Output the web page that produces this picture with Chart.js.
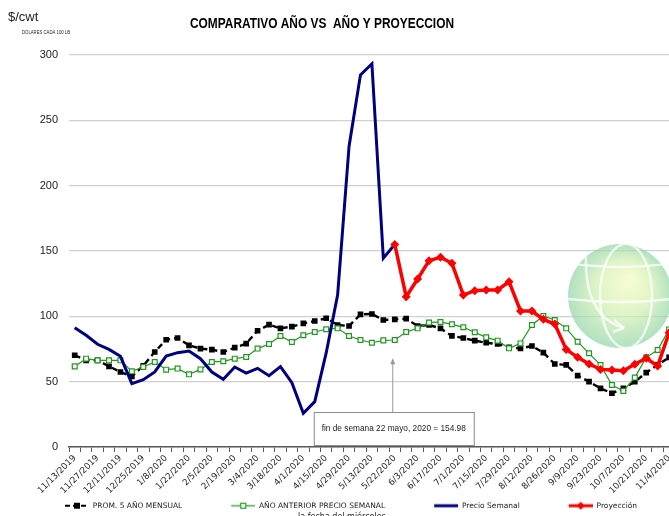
<!DOCTYPE html>
<html>
<head>
<meta charset="utf-8">
<title>Comparativo año vs año y proyeccion</title>
<script src="https://cdn.jsdelivr.net/npm/chart.js@4.4.1/dist/chart.umd.min.js"></script>
<style>
html,body{margin:0;padding:0;background:#fff;overflow:hidden}
#wrap{width:680px;height:516px}
</style>
</head>
<body>
<div id="wrap"><canvas id="precioChart" width="680" height="516"></canvas></div>
<script>
/* ====================================
   DATA (weekly, wednesday dates)
==================================== */

const weeks=["11/13/2019","11/20/2019","11/27/2019","12/4/2019","12/11/2019","12/18/2019","12/25/2019",
"1/1/2020","1/8/2020","1/15/2020","1/22/2020","1/29/2020","2/5/2020","2/12/2020","2/19/2020","2/26/2020",
"3/4/2020","3/11/2020","3/18/2020","3/25/2020","4/1/2020","4/8/2020","4/15/2020","4/22/2020","4/29/2020",
"5/6/2020","5/13/2020","5/20/2020","5/22/2020","5/27/2020","6/3/2020","6/10/2020","6/17/2020","6/24/2020",
"7/1/2020","7/8/2020","7/15/2020","7/22/2020","7/29/2020","8/5/2020","8/12/2020","8/19/2020","8/26/2020",
"9/2/2020","9/9/2020","9/16/2020","9/23/2020","9/30/2020","10/7/2020","10/14/2020","10/21/2020","10/28/2020","11/4/2020"]

// PROM. 5 AÑO MENSUAL
const prom5=[70.2,66.3,66.3,61.7,57.4,54.1,62.2,72.7,82.1,83.4,77.8,75.3,74.5,72.7,76,79.1,
89,93.6,90.8,92.1,94.6,96.4,98.5,93.4,92.6,101.5,101.8,97.2,97.7,98.2,92.6,93.4,90.8,85,
83.4,81.4,79.8,78.8,76.3,75.5,77.3,72.2,63.5,62.8,54.6,50,44.9,41.1,44.9,50,56.9,62.8,68.6]

// AÑO ANTERIOR PRECIO SEMANAL
const anoAnterior=[61.7,67.6,66.3,66.3,66.3,57.9,61.2,65.1,59.2,60,55.6,59.4,65.1,65.6,67.6,68.9,
75.3,78.8,84.9,80.4,85.5,88,90.1,90.8,84.9,81.9,79.8,81.6,81.9,88,90.8,95.2,95.7,93.9,
91.6,87.8,83.9,81.4,75.5,79.3,93.4,100.3,97.2,90.8,80.6,71.7,62.8,47.4,42.9,53.1,68.6,74.2,90]

// Precio Semanal (ends on 5/22)
const precioSemanal=[91.3,85.5,78.6,74.7,69.4,48.5,51.5,57.4,69.6,72.2,73.5,67.6,57.4,51.8,61.2,56.6,
60.2,54.6,61.5,49.2,25.8,34.7,72,116.3,230,284.8,293.3,144.5,154.98,
null,null,null,null,null,null,null,null,null,null,null,null,null,null,null,null,null,null,null,null,null,null,null,null]

// Proyección (starts on 5/22)
const proyeccion=[null,null,null,null,null,null,null,null,null,null,null,null,null,null,null,null,
null,null,null,null,null,null,null,null,null,null,null,null,
154.98,115,128.6,142.6,145.2,140.6,116.3,119.6,120.2,120.2,126.5,104.1,104.1,97.7,94.1,
74.7,68.6,63.5,59.4,58.9,58.4,63.3,67.9,62,87.5]

const seriesNames=["PROM. 5 AÑO MENSUAL","AÑO ANTERIOR PRECIO SEMANAL","Precio Semanal","Proyección"]
const yTicks=[0,50,100,150,200,250,300]

const noteIndex=28
const noteText="fin de semana 22 mayo, 2020 = 154.98"


/* ====================================
   LEGEND SYMBOLS (line + marker)
==================================== */

function makeIcon(kind){
const c=document.createElement("canvas")
c.width=70
c.height=12
const g=c.getContext("2d")
const x0=46,x1=70,y=6,mid=58
g.lineCap="butt"
if(kind==="black"){
g.strokeStyle="#000";g.lineWidth=2.2;g.setLineDash([5,3])
g.beginPath();g.moveTo(x0,y);g.lineTo(x1,y);g.stroke()
g.setLineDash([]);g.fillStyle="#000";g.fillRect(mid-3,y-3,6,6)
}
if(kind==="green"){
g.strokeStyle="#1f9a1f";g.lineWidth=1.2
g.beginPath();g.moveTo(x0,y);g.lineTo(x1,y);g.stroke()
g.fillStyle="#fff";g.fillRect(mid-2.5,y-2.5,5,5);g.strokeRect(mid-2.5,y-2.5,5,5)
}
if(kind==="navy"){
g.strokeStyle="#000080";g.lineWidth=3
g.beginPath();g.moveTo(x0,y);g.lineTo(x1,y);g.stroke()
}
if(kind==="red"){
g.strokeStyle="#ff0000";g.lineWidth=3
g.beginPath();g.moveTo(x0,y);g.lineTo(x1,y);g.stroke()
g.fillStyle="#ff0000";g.beginPath()
g.moveTo(mid,y-4);g.lineTo(mid+4,y);g.lineTo(mid,y+4);g.lineTo(mid-4,y);g.closePath();g.fill()
}
return c
}

const icons=[makeIcon("black"),makeIcon("green"),makeIcon("navy"),makeIcon("red")]


// write text squeezed to a given width (condensed look)
function fitText(ctx,text,x,y,width){
const w=ctx.measureText(text).width
ctx.save()
ctx.translate(x,y)
ctx.scale(Math.min(1,width/w),1)
ctx.fillText(text,0,0)
ctx.restore()
}


/* ====================================
   EXTRA DRAWING (title, notes, logo)
==================================== */

const extrasPlugin={
id:"extras",

beforeDatasetsDraw(chart){
// faded globe watermark
const ctx=chart.ctx
const cx=620,cy=296,r=52
ctx.save()
ctx.globalAlpha=0.72
const grad=ctx.createRadialGradient(cx+10,cy-16,4,cx,cy,r)
grad.addColorStop(0,"#f2fbbf")
grad.addColorStop(0.5,"#d2f0b2")
grad.addColorStop(1,"#94d6aa")
ctx.fillStyle=grad
ctx.beginPath();ctx.arc(cx,cy,r,0,Math.PI*2);ctx.fill()
ctx.beginPath();ctx.arc(cx,cy,r,0,Math.PI*2);ctx.clip()
ctx.strokeStyle="#fff";ctx.lineWidth=2.5
ctx.beginPath();ctx.ellipse(cx+6,cy,26,r,0,0,Math.PI*2);ctx.stroke()
ctx.beginPath();ctx.moveTo(cx-60,cy-34);ctx.quadraticCurveTo(cx,cy-24,cx+60,cy-34);ctx.stroke()
ctx.beginPath();ctx.moveTo(cx-60,cy+2);ctx.quadraticCurveTo(cx,cy+10,cx+60,cy+2);ctx.stroke()
ctx.beginPath();ctx.moveTo(cx-34,cy-40);ctx.quadraticCurveTo(cx-36,cy+20,cx+4,cy+32);ctx.stroke()
ctx.beginPath();ctx.moveTo(cx+4,cy+32);ctx.lineTo(cx-6,cy+24);ctx.moveTo(cx+4,cy+32);ctx.lineTo(cx-7,cy+36);ctx.stroke()
ctx.restore()
},

afterDatasetsDraw(chart){
// note box with arrow pointing to 5/22
const ctx=chart.ctx
const area=chart.chartArea
const ax=chart.scales.x.getPixelForValue(noteIndex)-2
const tipY=chart.scales.y.getPixelForValue(68)
const boxTop=area.bottom-35,boxBottom=area.bottom-2
const boxLeft=ax-79,boxRight=ax+81
ctx.save()
ctx.strokeStyle="#999";ctx.lineWidth=1
ctx.beginPath();ctx.moveTo(ax,boxTop);ctx.lineTo(ax,tipY+5);ctx.stroke()
ctx.fillStyle="#999"
ctx.beginPath();ctx.moveTo(ax,tipY);ctx.lineTo(ax-2.5,tipY+6);ctx.lineTo(ax+2.5,tipY+6);ctx.closePath();ctx.fill()
ctx.fillStyle="#fff"
ctx.fillRect(boxLeft,boxTop,boxRight-boxLeft,boxBottom-boxTop)
ctx.strokeStyle="#8c8c8c"
ctx.strokeRect(boxLeft+0.5,boxTop+0.5,boxRight-boxLeft,boxBottom-boxTop)
ctx.fillStyle="#222"
ctx.font='8.3px "Liberation Sans"'
ctx.textAlign="center";ctx.textBaseline="middle"
ctx.fillText(noteText,(boxLeft+boxRight)/2,(boxTop+boxBottom)/2)
ctx.restore()
},

afterDraw(chart){
const ctx=chart.ctx
ctx.save()
ctx.fillStyle="#000"
ctx.textBaseline="middle"
ctx.textAlign="left"
ctx.font='bold 14px "Liberation Sans"'
fitText(ctx,"COMPARATIVO AÑO VS  AÑO Y PROYECCION",190,24,264)
ctx.fillStyle="#222"
ctx.font='13px "Liberation Sans"'
ctx.fillText("$/cwt",8,17)
ctx.font='6px "Liberation Sans"'
fitText(ctx,"DOLARES CADA 100 LB",22,32,48)
ctx.font='8px "DejaVu Sans"'
ctx.textBaseline="top"
ctx.fillText("la fecha del miércoles",298,513)
ctx.restore()
}
}


/* ====================================
   DRAW CHART USING CHART.JS
==================================== */

new Chart(document.getElementById("precioChart"),{

type:"line",

data:{
labels:weeks,
datasets:[
{
label:seriesNames[0],
data:prom5,
borderColor:"#000",
backgroundColor:"#000",
borderWidth:2.4,
borderDash:[6,4],
pointStyle:"rect",
pointRadius:4,
pointBorderWidth:0,
order:4
},
{
label:seriesNames[1],
data:anoAnterior,
borderColor:"#1f9a1f",
backgroundColor:"#fff",
borderWidth:1.2,
pointStyle:"rect",
pointRadius:3.4,
pointBorderWidth:1.2,
order:3
},
{
label:seriesNames[2],
data:precioSemanal,
borderColor:"#000080",
borderWidth:3,
pointRadius:0,
order:2
},
{
label:seriesNames[3],
data:proyeccion,
borderColor:"#ff0000",
backgroundColor:"#ff0000",
borderWidth:3.5,
pointStyle:"rectRot",
pointRadius:4.5,
pointBorderWidth:0,
order:1
}
]
},

options:{
responsive:false,
animation:false,
devicePixelRatio:1,
spanGaps:false,
layout:{padding:{left:16,right:5,top:55,bottom:3}},

plugins:{
tooltip:{enabled:false},
legend:{
position:"bottom",
align:"start",
maxHeight:14,
labels:{
usePointStyle:true,
pointStyleWidth:70,
padding:3,
color:"#222",
font:{family:"DejaVu Sans",size:7.5},
generateLabels:()=>seriesNames.map((n,i)=>({
text:n,
pointStyle:icons[i],
fillStyle:"transparent",
strokeStyle:"transparent",
lineWidth:0,
hidden:false,
fontColor:"#222",
datasetIndex:i
}))
}
}
},

scales:{
x:{
offset:true,
grid:{offset:true,drawOnChartArea:false,drawTicks:true,tickLength:5,color:"#595959",lineWidth:1},
border:{color:"#595959",width:1.5},
ticks:{
autoSkip:false,
minRotation:45,
maxRotation:45,
padding:1,
color:"#222",
font:{family:"DejaVu Sans",size:8.7},
callback:(v,i)=>i%2===0?weeks[i]:""
},
afterFit:s=>{s.height=52}
},
y:{
min:yTicks[0],
max:yTicks[yTicks.length-1],
afterBuildTicks:s=>{s.ticks=yTicks.map(v=>({value:v}))},
grid:{color:"#d0d0d0",lineWidth:1.2,drawTicks:false},
border:{display:false},
ticks:{padding:11,color:"#222",font:{family:"Liberation Sans",size:11}},
afterFit:s=>{s.width=53}
}
}

},

plugins:[extrasPlugin]

})
</script>
</body>
</html>
